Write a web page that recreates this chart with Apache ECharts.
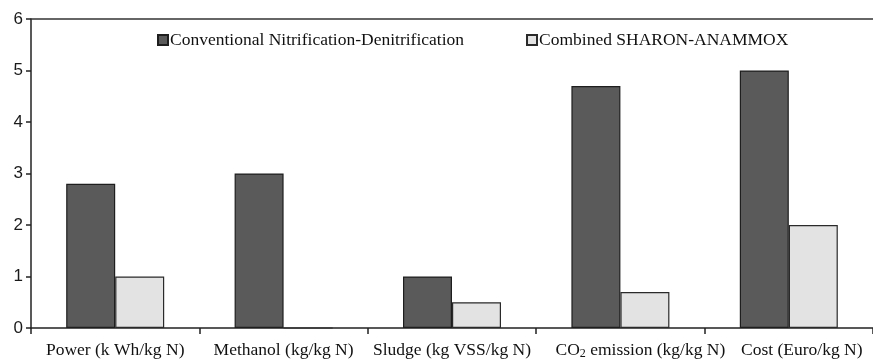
<!DOCTYPE html>
<html>
<head>
<meta charset="utf-8">
<script src="https://cdn.jsdelivr.net/npm/echarts@6/dist/echarts.min.js"></script>
<style>
  html, body { margin: 0; padding: 0; background: #fff; }
  #chart { width: 873px; height: 360px; }
</style>
</head>
<body>
<div id="chart"></div>
<script>
// Per-kg-N comparison of the two nitrogen removal processes
const categories = [
  'Power (k Wh/kg N)',
  'Methanol (kg/kg N)',
  'Sludge (kg VSS/kg N)',
  'CO2 emission (kg/kg N)',
  'Cost (Euro/kg N)'
];
const conventional = [2.8, 3.0, 1.0, 4.7, 5.0];
const combined = [1.0, 0, 0.5, 0.7, 2.0];
const seriesNames = ['Conventional Nitrification-Denitrification', 'Combined SHARON-ANAMMOX'];
const yTicks = [0, 1, 2, 3, 4, 5, 6];

const serif = '"Liberation Serif", "DejaVu Serif", serif';
const sans = '"Liberation Sans", Arial, sans-serif';
const fs = 17.5;

// small horizontal nudges for the crowded right-hand labels
const labelShift = [0, 0, 0, 40, 26];

const chart = echarts.init(document.getElementById('chart'), null, { renderer: 'canvas' });
chart.setOption({
  animation: false,
  backgroundColor: '#ffffff',
  legend: {
    top: 26,
    left: 152,
    itemWidth: 10,
    itemHeight: 10,
    itemGap: 62,
    icon: 'rect',
    textStyle: { fontFamily: serif, fontSize: fs, color: '#111', padding: [0, 0, 0, -3] },
    data: seriesNames
  },
  grid: { left: 31, right: -3, top: 19, bottom: 32, show: true, borderWidth: 0 },
  xAxis: {
    type: 'category',
    data: categories.map((c, i) => ({
      value: c,
      textStyle: { padding: [0, 0, 0, labelShift[i]] }
    })),
    axisLine: { lineStyle: { color: '#222', width: 1.5 } },
    axisTick: { show: true, length: 6, lineStyle: { color: '#222', width: 1.5 } },
    axisLabel: {
      margin: 13,
      fontFamily: serif,
      fontSize: fs,
      color: '#111',
      interval: 0,
      formatter: v => v.startsWith('CO2') ? '{t|CO}{s|2}{t|' + v.slice(3) + '}' : '{t|' + v + '}',
      rich: {
        t: { fontFamily: serif, fontSize: fs, color: '#111' },
        s: { fontFamily: serif, fontSize: 12, color: '#111', verticalAlign: 'bottom', padding: [7, 0, 0, 0] }
      }
    },
    splitLine: { show: false }
  },
  yAxis: {
    type: 'value',
    min: yTicks[0],
    max: yTicks[yTicks.length - 1],
    interval: 1,
    axisLine: { show: true, lineStyle: { color: '#222', width: 1.5 } },
    axisTick: { show: true, length: 5, lineStyle: { color: '#222', width: 1.5 } },
    axisLabel: { fontFamily: sans, fontSize: 17, color: '#1a1a1a', margin: 8 },
    splitLine: { show: false }
  },
  series: [
    {
      name: seriesNames[0],
      type: 'bar',
      data: conventional,
      barWidth: 49,
      barGap: '0%',
      itemStyle: { color: '#5a5a5a', borderColor: '#1e1e1e', borderWidth: 1.2 }
    },
    {
      name: seriesNames[1],
      type: 'bar',
      data: combined,
      barWidth: 49,
      barGap: '0%',
      itemStyle: { color: '#e3e3e3', borderColor: '#2a2a2a', borderWidth: 1.2 }
    },
    {
      // top frame line of the plot area
      type: 'line',
      data: [],
      markLine: {
        silent: true,
        symbol: 'none',
        label: { show: false },
        lineStyle: { color: '#333', width: 1.5, type: 'solid' },
        data: [{ yAxis: yTicks[yTicks.length - 1] }]
      }
    }
  ]
});
</script>
</body>
</html>
